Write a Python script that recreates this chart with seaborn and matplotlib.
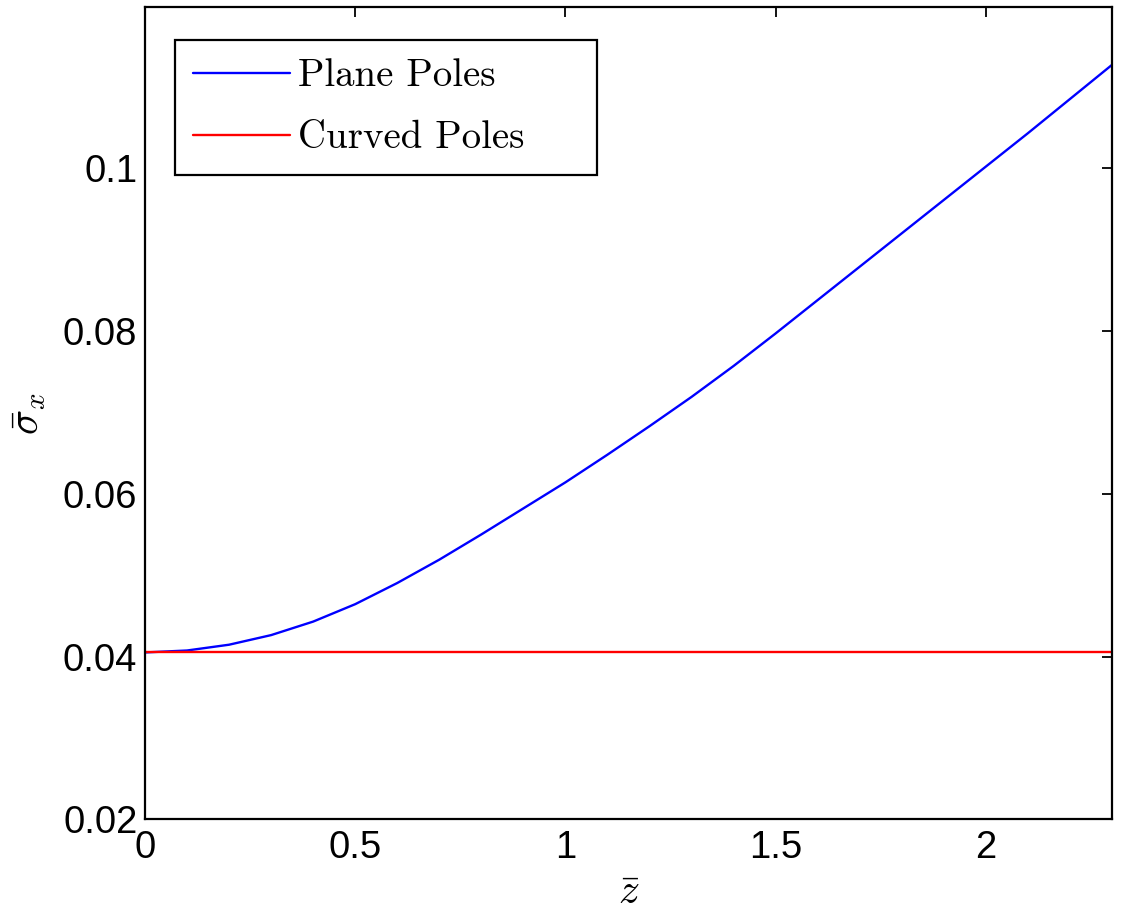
import matplotlib
matplotlib.use("Agg")
import matplotlib.pyplot as plt
import seaborn as sns
import pandas as pd
from matplotlib.font_manager import FontProperties

# Normalised height z̄ and stress σ̄x for the two pole configurations
z_bar = [0.0, 0.1, 0.2, 0.3, 0.4, 0.5, 0.6, 0.7, 0.8, 0.9, 1.0, 1.1,
         1.2, 1.3, 1.4, 1.5, 1.6, 1.7, 1.8, 1.9, 2.0, 2.1, 2.2, 2.3]
plane_poles = [0.04050, 0.04074, 0.04145, 0.04263, 0.04429, 0.04643,
               0.04903, 0.05190, 0.05500, 0.05820, 0.06140, 0.06480,
               0.06830, 0.07190, 0.07570, 0.07970, 0.08380, 0.08790,
               0.09200, 0.09610, 0.10020, 0.10430, 0.10850, 0.11270]
curved_poles = [0.0405] * len(z_bar)
series_names = ["Plane Poles", "Curved Poles"]
x_ticks = [0, 0.5, 1, 1.5, 2]
x_tick_labels = ["0", "0.5", "1", "1.5", "2"]
y_ticks = [0.02, 0.04, 0.06, 0.08, 0.1]
y_tick_labels = ["0.02", "0.04", "0.06", "0.08", "0.1"]

df = pd.DataFrame({
    "z": z_bar * 2,
    "sigma": plane_poles + curved_poles,
    "series": [series_names[0]] * len(z_bar) + [series_names[1]] * len(z_bar),
})

sns.set_style("white")
plt.rcParams["font.family"] = ["Liberation Sans", "DejaVu Sans"]
plt.rcParams["mathtext.fontset"] = "cm"
plt.rcParams["text.color"] = "black"
plt.rcParams["axes.labelcolor"] = "black"

fig = plt.figure(figsize=(11.22, 9.15), dpi=100)
ax = fig.add_axes([0.1292, 0.1046, 0.8619, 0.8877])

sns.lineplot(data=df, x="z", y="sigma", hue="series", hue_order=series_names,
             palette={"Plane Poles": "#0000ff", "Curved Poles": "#ff0000"},
             linewidth=1.7, ax=ax, sort=False)

ax.set_xlim(0, 2.3)
ax.set_ylim(0.02, 0.1198)
ax.set_xticks(x_ticks)
ax.set_xticklabels(x_tick_labels)
ax.set_yticks(y_ticks)
ax.set_yticklabels(y_tick_labels)

ax.tick_params(axis="both", which="both", direction="in", length=7.5,
               width=1.3, colors="black", labelsize=27.5,
               top=True, right=True)
ax.tick_params(axis="x", pad=8)
ax.tick_params(axis="y", pad=5.5)
for s in ax.spines.values():
    s.set_visible(True)
    s.set_color("black")
    s.set_linewidth(1.6)

ax.set_xlabel(r"$\bar{z}$", fontsize=30, labelpad=5, color="black")
ax.set_ylabel(r"$\bar{\sigma}_x$", fontsize=30, labelpad=11, color="black")

leg = ax.legend(loc="upper left", bbox_to_anchor=(0.031, 0.7956, 0.4364, 0.1638),
                mode="expand", borderaxespad=0, frameon=True, fancybox=False,
                handlelength=2.5, handletextpad=0.2, labelspacing=0.68,
                borderpad=0.47, labelcolor="black",
                prop=FontProperties(family="cmr10", size=28))
leg.get_frame().set_edgecolor("black")
leg.get_frame().set_linewidth(1.6)
leg.get_frame().set_alpha(1)
for line in leg.get_lines():
    line.set_linewidth(1.7)

fig.savefig("out.png", dpi=100, facecolor="white")
